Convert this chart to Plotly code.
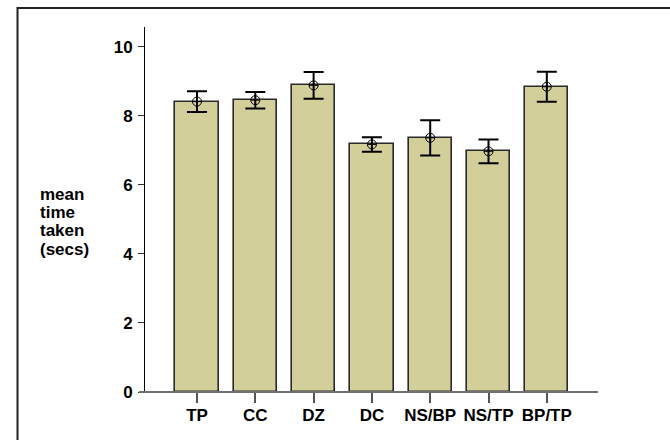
import plotly.graph_objects as go

# Mean time taken per condition, with error half-widths
conditions = ["TP", "CC", "DZ", "DC", "NS/BP", "NS/TP", "BP/TP"]
mean_secs = [8.41, 8.45, 8.88, 7.17, 7.36, 6.97, 8.84]
err_secs = [0.30, 0.24, 0.39, 0.21, 0.51, 0.345, 0.435]
y_ticks = [0, 2, 4, 6, 8, 10]
title_lines = ["mean", "time", "taken", "(secs)"]

W, H = 670, 440
L, R, T, B = 145, 72, 27, 48
pw, ph = W - L - R, H - T - B

def px_x(p):
    return (p - L) / pw

def px_y(p):
    return (H - B - p) / ph

FONT = "Liberation Sans, Arial, Helvetica, sans-serif"
FS = 17

fig = go.Figure()

fig.add_trace(go.Bar(
    x=conditions, y=mean_secs, width=0.743,
    marker=dict(color="#d3cf9b", line=dict(color="#2a2a2a", width=1.6)),
    error_y=dict(type="data", array=err_secs, visible=True,
                 color="black", thickness=2, width=10),
    showlegend=False, hoverinfo="skip",
))

fig.add_trace(go.Scatter(
    x=conditions, y=mean_secs, mode="markers",
    marker=dict(symbol="circle-cross-open", size=9, color="black",
                line=dict(color="black", width=1)),
    showlegend=False, hoverinfo="skip",
))

# outer frame
fig.add_shape(type="rect", xref="paper", yref="paper",
              x0=px_x(17.5), x1=px_x(671), y0=px_y(8), y1=px_y(460),
              line=dict(color="#222", width=2), layer="above")

# baseline extending left under the zero tick
fig.add_shape(type="line", xref="paper", yref="paper",
              x0=px_x(139), x1=px_x(598), y0=0, y1=0,
              line=dict(color="#707070", width=2), layer="above")

# stacked axis title, one line per annotation for tight spacing
for i, word in enumerate(title_lines):
    fig.add_annotation(
        text=f"<b>{word}</b>", xref="paper", yref="paper",
        x=px_x(38), y=px_y(194 + 18.4 * i), xanchor="left", yanchor="middle",
        showarrow=False, font=dict(family=FONT, size=FS, color="black"),
    )

fig.update_layout(
    width=W, height=H,
    margin=dict(l=L, r=R, t=T, b=B, pad=0),
    paper_bgcolor="white", plot_bgcolor="white",
    bargap=0,
    xaxis=dict(
        range=[-0.892, 6.878], showgrid=False, zeroline=False,
        showline=False, ticks="outside", ticklen=10, tickwidth=1.5,
        tickcolor="#555",
        tickfont=dict(family=FONT, size=FS, color="black", weight="bold"),
        ticklabelstandoff=-2, fixedrange=True,
    ),
    yaxis=dict(
        range=[0, 10.57], tickvals=y_ticks, showgrid=False, zeroline=False,
        showline=True, linecolor="black", linewidth=1,
        ticks="outside", ticklen=6, tickwidth=1, tickcolor="#333",
        tickfont=dict(family=FONT, size=FS, color="black", weight="bold"),
        ticklabelstandoff=2, fixedrange=True,
    ),
)

fig.write_html("out.html")
